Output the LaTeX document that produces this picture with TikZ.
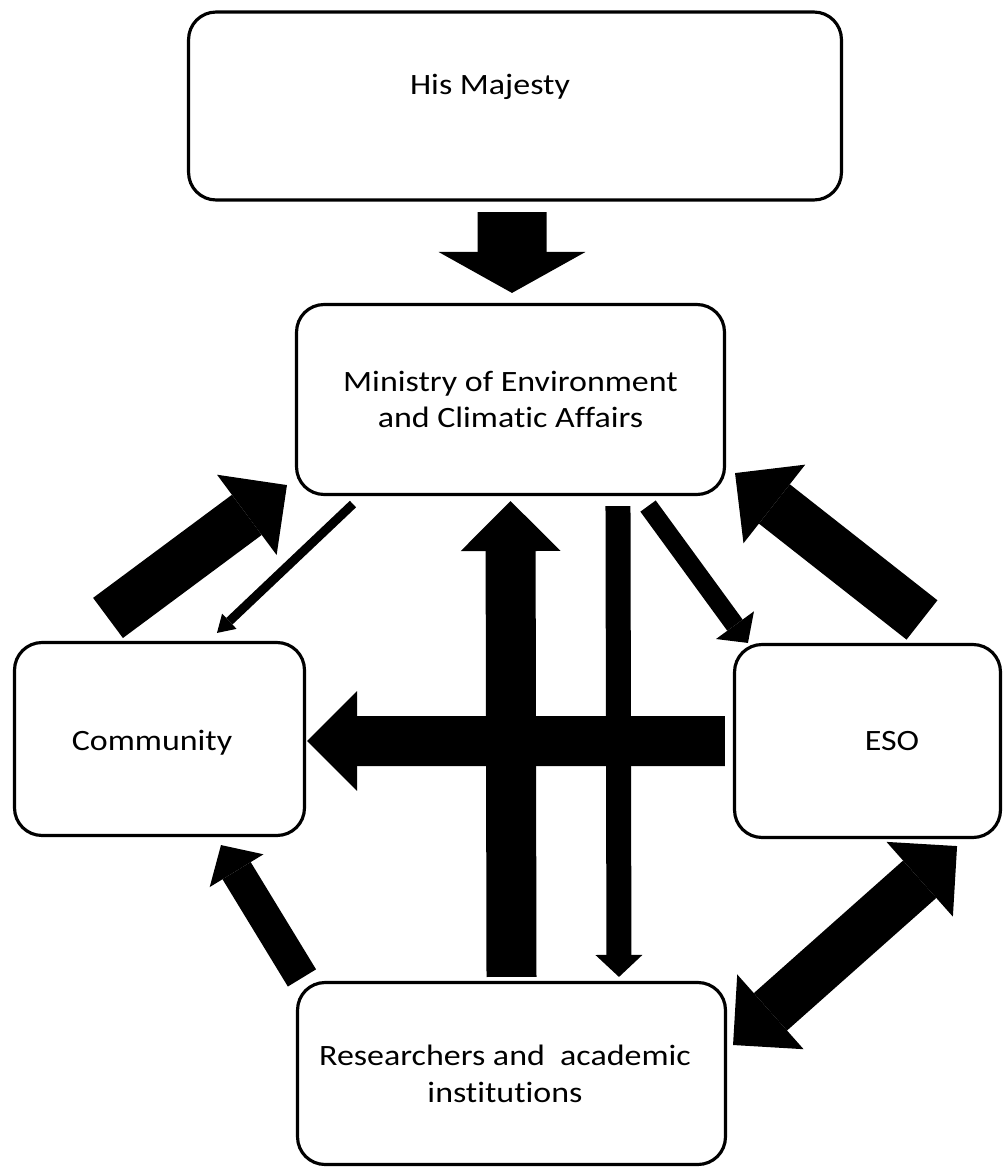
\documentclass[tikz,border=0pt]{standalone}
\usepackage{fontspec}
\setmainfont{Carlito}[FakeStretch=1.15, Ligatures={NoCommon}]
\usetikzlibrary{arrows.meta}

% one head for all the heavy block arrows
\tikzset{BigHead/.tip={Triangle[width=2cm, length=1cm, line width=0pt]}}

\begin{document}
\begin{tikzpicture}[
    x=0.02cm, y=-0.02cm,
    every node/.style={font=\fontsize{16.8}{21}\selectfont},
    box/.style={draw, line width=1.8pt, rounded corners=0.55cm, align=center, fill=white, inner sep=0pt},
    toparrow/.style={line width=1.38cm, -{Triangle[width=2.94cm, length=0.82cm, line width=0pt]}},
    bigarrow/.style={line width=1cm, -BigHead},
    midarrow/.style={line width=0.66cm, -{Triangle[width=1.26cm, length=0.6cm, line width=0pt]}},
    slimarrow/.style={line width=#1, -{Triangle[width=0.94cm, length=0.44cm, line width=0pt]}},
    thinarrow/.style={line width=0.18cm, -{Triangle[width=0.42cm, length=0.34cm, line width=0pt]}}
]
\useasboundingbox (0,0) rectangle (1004,1169);

% boxes
\node[box, minimum width=13.06cm, minimum height=3.76cm] (king) at (515,106) {};
\node[anchor=base] (kinglabel) at (490,95) {His Majesty};
\node[box, minimum width=8.56cm, minimum height=3.8cm] (ministry) at (510.5,399.5) {Ministry of Environment\\and Climatic Affairs};
\node[box, minimum width=5.8cm, minimum height=3.86cm] (community) at (159.5,739) {};
\node[anchor=base] (communitylabel) at (152,750) {Community};
\node[box, minimum width=5.32cm, minimum height=3.86cm] (eso) at (867.5,741) {};
\node[anchor=base] (esolabel) at (892,750) {ESO};
\node[box, minimum width=8.56cm, minimum height=3.64cm] (research) at (511.5,1073.5) {};
\node[align=center, anchor=base] (researchlabel) at (505,1102) {Researchers and~~academic\\institutions};

% arrows
\draw[toparrow] ([xshift=-0.06cm, yshift=-0.21cm]king.south) -- ([xshift=0.03cm, yshift=0.2cm]ministry.north);
\draw[bigarrow] ([yshift=0.08cm]research.north) -- ([yshift=-0.1cm]ministry.south);
\draw[slimarrow=0.5cm] ([xshift=2.15cm, yshift=-0.2cm]ministry.south) -- ([xshift=2.15cm, yshift=0.08cm]research.north);
\draw[bigarrow] ([xshift=-0.16cm]eso.west) -- ([xshift=0.02cm, yshift=-0.04cm]community.east);
\draw[bigarrow] ([xshift=-1.03cm, yshift=0.46cm]community.north) -- ([xshift=-0.16cm, yshift=0.22cm]ministry.south west);
\draw[thinarrow] ([xshift=1.16cm, yshift=-0.16cm]ministry.south west) -- ([xshift=1.15cm, yshift=0.16cm]community.north);
\draw[slimarrow=0.38cm] ([xshift=-1.56cm, yshift=-0.2cm]ministry.south east) -- ([xshift=0.3cm]eso.north west);
\draw[bigarrow] ([xshift=1.09cm, yshift=0.46cm]eso.north) -- ([xshift=0.18cm, yshift=0.46cm]ministry.south east);
\draw[midarrow] ([xshift=0.12cm, yshift=0.06cm]research.north west) -- ([xshift=1.23cm, yshift=-0.16cm]community.south);
\draw[bigarrow, BigHead-BigHead] ([xshift=0.12cm, yshift=0.57cm]research.east) -- ([xshift=-0.9cm, yshift=-0.14cm]eso.south east);
\end{tikzpicture}
\end{document}
